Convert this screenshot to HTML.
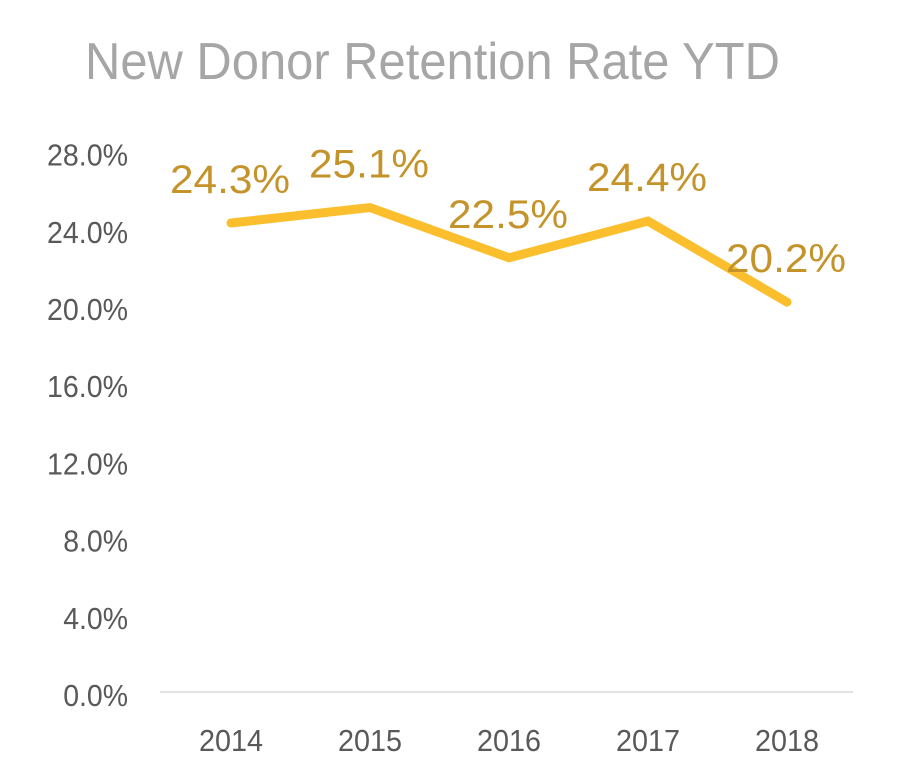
<!DOCTYPE html>
<html><head><meta charset="utf-8"><style>
html,body{margin:0;padding:0;background:#fff;}
svg{display:block;font-family:"Liberation Sans",Arial,sans-serif;}
</style></head><body>
<svg id="chart" width="921" height="770" viewBox="0 0 921 770">
<text x="85" y="79" font-size="52" fill="#a6a6a6" textLength="695" lengthAdjust="spacingAndGlyphs">New Donor Retention Rate YTD</text>
<line x1="160" y1="692" x2="853" y2="692" stroke="#d9d9d9" stroke-width="1.5"/>
<g id="yticks"></g><g id="xticks"></g><g id="series"></g><g id="labels"></g>
</svg>
<script>
const categories = ["2014","2015","2016","2017","2018"];
const values = [24.3, 25.1, 22.5, 24.4, 20.2];
const valueLabels = ["24.3%","25.1%","22.5%","24.4%","20.2%"];
const yTicks = [0,4,8,12,16,20,24,28];
const yTickLabels = ["0.0%","4.0%","8.0%","12.0%","16.0%","20.0%","24.0%","28.0%"];

const NS="http://www.w3.org/2000/svg";
function y(v){return 692 - v*19.3;}
function x(i){return 231 + i*139;}
function mk(tag,attrs,parent){const e=document.createElementNS(NS,tag);for(const k in attrs)e.setAttribute(k,attrs[k]);parent.appendChild(e);return e;}

const yg=document.getElementById('yticks');
yTicks.forEach((t,i)=>{
  const lbl=yTickLabels[i];
  const e=mk('text',{x:128,y:y(t)+14,'font-size':31,fill:'#595959','text-anchor':'end',textLength:lbl.length*16.2,lengthAdjust:'spacingAndGlyphs'},yg);
  
  
  e.textContent=lbl;
});
const xg=document.getElementById('xticks');
categories.forEach((c,i)=>{
  const e=mk('text',{x:x(i),y:751,'font-size':31,fill:'#595959','text-anchor':'middle',textLength:64,lengthAdjust:'spacingAndGlyphs'},xg);
  
  
  e.textContent=c;
});
const sg=document.getElementById('series');
const pts=values.map((v,i)=>x(i)+','+y(v)).join(' ');
const pl=mk('polyline',{points:pts,fill:'none',stroke:'#fbbf2d','stroke-width':9,'stroke-linejoin':'miter','stroke-linecap':'round'},sg);


const lg=document.getElementById('labels');
values.forEach((v,i)=>{
  const e=mk('text',{x:x(i)-1,y:y(v)-30,'font-size':40,fill:'#c4932a','text-anchor':'middle',textLength:120,lengthAdjust:'spacingAndGlyphs'},lg);
  
  
  e.textContent=valueLabels[i];
});
</script>
</body></html>
